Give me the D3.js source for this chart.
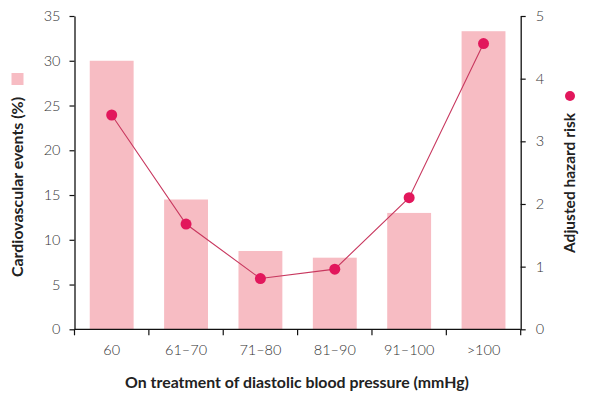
<!DOCTYPE html>
<html><head><meta charset="utf-8">
<script src="https://cdn.jsdelivr.net/npm/d3@7/dist/d3.min.js"></script>
<style>
body{margin:0;background:#fff;}
svg{display:block;}
text{font-family:Lato,"Open Sans",sans-serif;}
</style></head>
<body>
<svg id="c" width="595" height="409"></svg>
<script>
const categories = ["60","61–70","71–80","81–90","91–100",">100"];
const events = [30, 14.5, 8.75, 8, 13, 33.3];
const hazard = [3.42, 1.68, 0.81, 0.96, 2.1, 4.56];
const leftTicks = [0,5,10,15,20,25,30,35];
const rightTicks = [0,1,2,3,4,5];

const svg = d3.select("#c");
const x0 = 74.5, x1 = 520.7, yTop = 16, yBot = 329.3;
const x = d3.scaleBand().domain(categories).range([x0, x1]).paddingInner(0.41).paddingOuter(0.205);
const yL = d3.scaleLinear().domain([0,35]).range([yBot, yTop]);
const yR = d3.scaleLinear().domain([0,5]).range([yBot, yTop]);

const barColor = "#f7bcc3", dotColor = "#e2175c", lineColor = "#c8385f";

svg.append("g").selectAll("rect").data(events).join("rect")
  .attr("x", (d,i)=>x(categories[i]))
  .attr("width", x.bandwidth())
  .attr("y", d=>yL(d))
  .attr("height", d=>yBot - yL(d))
  .attr("fill", barColor);

const line = d3.line().x((d,i)=>x(categories[i]) + x.bandwidth()/2).y(d=>yR(d));
svg.append("path").datum(hazard).attr("d", line)
  .attr("fill","none").attr("stroke", lineColor).attr("stroke-width", 1.1);
svg.append("g").selectAll("circle").data(hazard).join("circle")
  .attr("cx", (d,i)=>x(categories[i]) + x.bandwidth()/2)
  .attr("cy", d=>yR(d)).attr("r", 5.5).attr("fill", dotColor);

const gl = svg.append("g").attr("transform", `translate(${x0},0)`)
  .call(d3.axisLeft(yL).tickValues(leftTicks).tickFormat(d3.format("d")).tickSize(5).tickSizeOuter(0).tickPadding(9));
const gr = svg.append("g").attr("transform", `translate(${x1},0)`)
  .call(d3.axisRight(yR).tickValues(rightTicks).tickFormat(d3.format("d")).tickSize(5).tickSizeOuter(0).tickPadding(10));
const gb = svg.append("g").attr("transform", `translate(0,${yBot})`)
  .call(d3.axisBottom(x).tickSize(0).tickSizeOuter(0).tickPadding(15));
const step = x.step();
const bounds = categories.map(c => x(c) - x.paddingInner()*step/2).concat([x1]);
gb.selectAll("line.bt").data(bounds).join("line").attr("class","bt")
  .attr("x1", d=>d).attr("x2", d=>d).attr("y1",0).attr("y2",6)
  .attr("stroke","#111").attr("stroke-width",1.2);

[gl, gr, gb].forEach(g=>{
  g.selectAll(".domain").attr("stroke","#111").attr("stroke-width",1.3);
  g.selectAll(".tick line").attr("stroke","#111").attr("stroke-width",1.2);
  g.selectAll("text").attr("font-size",14.5).attr("fill","#333")
   .style("font-family","Lato, 'Open Sans', sans-serif").style("font-weight",300);
});
gb.select(".domain").attr("d", `M${x0},0H${x1}`);

function fitTitle(t, target){
  const base = 14;
  t.attr("font-size", base);
  const w = t.node().getComputedTextLength();
  t.attr("font-size", (base*target/w).toFixed(2));
}
const tx = svg.append("text").attr("x", 297).attr("y", 388).attr("text-anchor","middle")
  .attr("font-weight","bold").attr("fill","#222")
  .text("On treatment of diastolic blood pressure (mmHg)");
fitTitle(tx, 344);
const tl = svg.append("text").attr("transform","translate(23,187) rotate(-90)").attr("text-anchor","middle")
  .attr("font-weight","bold").attr("fill","#222")
  .text("Cardiovascular events (%)");
fitTitle(tl, 180);
const trt = svg.append("text").attr("transform","translate(575,183) rotate(-90)").attr("text-anchor","middle")
  .attr("font-weight","bold").attr("fill","#222")
  .text("Adjusted hazard risk");
fitTitle(trt, 140);

svg.append("rect").attr("x",11.5).attr("y",73).attr("width",12).attr("height",12).attr("fill",barColor);
svg.append("circle").attr("cx",570).attr("cy",96).attr("r",5).attr("fill",dotColor);
</script>
</body></html>
